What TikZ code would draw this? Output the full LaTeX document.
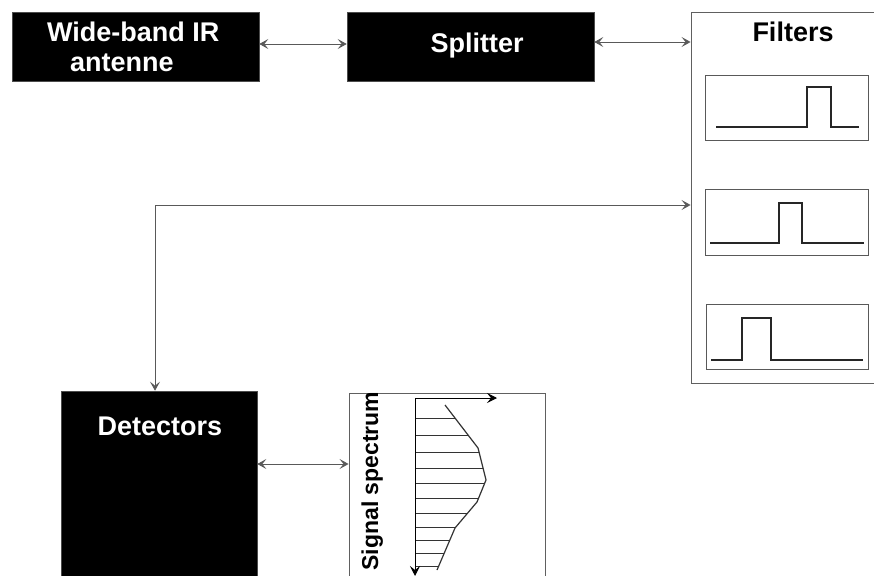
\documentclass[tikz,border=0pt]{standalone}
\usepackage{fontspec}
\setmainfont{Liberation Sans}
\usetikzlibrary{arrows.meta}
\tikzset{
  blackbox/.style={draw=gray!60!black, fill=black, line width=0.6pt, inner sep=0pt},
  whitebox/.style={draw=gray!75!black, fill=white, line width=0.9pt, inner sep=0pt},
  subbox/.style={draw=gray!70!black, line width=0.9pt, inner sep=0pt},
  wtext/.style={text=white, font=\fontsize{27}{30}\selectfont\bfseries, inner sep=0pt},
  btext/.style={text=black, font=\fontsize{27}{30}\selectfont\bfseries, inner sep=0pt},
  conn/.style={draw=gray!70!black, line width=0.9pt, {Stealth[length=9pt,width=10pt,inset=4pt]}-{Stealth[length=9pt,width=10pt,inset=4pt]}},
  sig/.style={draw=black!85, line width=1.8pt},
  axis/.style={draw=black, line width=1pt, -{Stealth[length=10pt,width=10pt,inset=4pt]}},
  hatch/.style={draw=black!80, line width=0.8pt}
}
\begin{document}
\begin{tikzpicture}[x=1pt,y=-1pt]
\useasboundingbox (0,0) rectangle (874,575);
\clip (0,0) rectangle (874,575);
% top blocks
\node[blackbox, minimum width=247pt, minimum height=69pt] (ant) at (135.5,46.5) {};
\node[wtext, align=left, anchor=base west] (antt) at (47,72) {Wide-band IR\\\hspace*{23pt}antenne};
\node[blackbox, minimum width=247pt, minimum height=69pt] (split) at (470.5,46.5) {};
\node[wtext, anchor=base] (splitt) at (477,53) {Splitter};
% filters
\node[whitebox, minimum width=190pt, minimum height=371pt] (filt) at (786,197.5) {};
\node[btext, anchor=base] (filtt) at (793,42) {Filters};
\node[subbox, minimum width=163pt, minimum height=65pt] (f1) at (786.5,107.5) {};
\node[subbox, minimum width=163pt, minimum height=66pt] (f2) at (786.5,222) {};
\node[subbox, minimum width=162pt, minimum height=65pt] (f3) at (787,336.5) {};
\draw[sig] (716,127) -- (807,127) -- (807,87) -- (831,87) -- (831,127) -- (859,127);
\draw[sig] (710,243) -- (779,243) -- (779,203) -- (802,203) -- (802,243) -- (864,243);
\draw[sig] (711,360) -- (742,360) -- (742,318) -- (771,318) -- (771,360) -- (863,360);
% detectors
\node[blackbox, minimum width=196pt, minimum height=220pt] (det) at (159,501) {};
\node[wtext, anchor=base] (dett) at (160,435) {Detectors};
% spectrum
\node[whitebox, minimum width=196pt, minimum height=220pt] (spec) at (447,503) {};
\node[btext, font=\fontsize{23}{26}\selectfont\bfseries, rotate=90, anchor=base] (spect) at (378,481) {Signal spectrum};
\begin{scope}
\clip (415,405) -- (445,405) -- (478,448) -- (486,480) -- (477,502) -- (455,528) -- (437,570) -- (415,570) -- cycle;
\foreach \yy in {418,435,452,468,483,498,513,527,540,553,566}
  \draw[hatch] (405,\yy) -- (500,\yy);
\end{scope}
\draw[hatch, line width=1.2pt] (445,405) -- (478,448) -- (486,480) -- (477,502) -- (455,528) -- (437,570);
\coordinate (org) at (415,398);
\coordinate (xend) at (497,398);
\coordinate (yend) at (415,576);
\draw[axis] (org) -- (xend);
\draw[axis] (org) -- (yend);
% connectors
\coordinate (ya) at (0,44);
\coordinate (yb) at (0,42);
\coordinate (yc) at (0,205);
\coordinate (yd) at (0,464);
\coordinate (xc) at (155,0);
\draw[conn] (ant.east |- ya) -- (split.west |- ya);
\draw[conn] (split.east |- yb) -- (filt.west |- yb);
\draw[conn] (det.north -| xc) |- (filt.west |- yc);
\draw[conn] (det.east |- yd) -- (spec.west |- yd);
\end{tikzpicture}
\end{document}
